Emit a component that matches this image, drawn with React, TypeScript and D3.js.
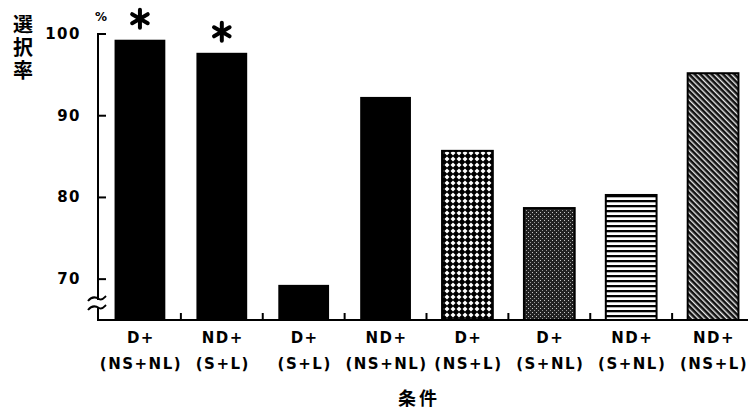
import React, { useRef, useEffect } from "react";
import * as d3 from "d3";

const groups = ["D+", "ND+", "D+", "ND+", "D+", "D+", "ND+", "ND+"];
const conditions = ["(NS+NL)", "(S+L)", "(S+L)", "(NS+NL)", "(NS+L)", "(S+NL)", "(S+NL)", "(NS+L)"];
const rates = [99.3, 97.7, 69.3, 92.3, 85.7, 78.7, 80.3, 95.2];
const fills = ["solid", "solid", "solid", "solid", "cross", "stipple", "hlines", "diag"];
const significant = [true, true, false, false, false, false, false, false];
const yTicks = [70, 80, 90, 100];

const FONT = "'DejaVu Sans', sans-serif";

export default function App() {
    const svgRef = useRef<SVGSVGElement | null>(null);

    useEffect(() => {
        if (!svgRef.current) return;
        const svg = d3.select(svgRef.current);
        svg.selectAll("*").remove();

        const width = 749;
        const height = 414;
        const axisX = 98;
        const baseY = 320;

        const keys = groups.map((_, i) => String(i));
        const x = d3.scaleBand<string>().domain(keys).range([99, 754]).paddingInner(0.38).paddingOuter(0.19);
        const y = d3.scaleLinear().domain([65, 100]).range([baseY, 34]);

        svg.attr("width", width).attr("height", height);
        svg.append("rect").attr("width", width).attr("height", height).attr("fill", "white");

        // patterns
        const defs = svg.append("defs");
        const cross = defs.append("pattern").attr("id", "p-cross").attr("patternUnits", "userSpaceOnUse")
            .attr("width", 6).attr("height", 6);
        cross.append("rect").attr("width", 6).attr("height", 6).attr("fill", "black");
        cross.append("polygon").attr("points", "3,0.5 5.5,3 3,5.5 0.5,3").attr("fill", "white");

        const stip = defs.append("pattern").attr("id", "p-stipple").attr("patternUnits", "userSpaceOnUse")
            .attr("width", 4).attr("height", 4);
        stip.append("rect").attr("width", 4).attr("height", 4).attr("fill", "#222");
        stip.append("rect").attr("x", 0).attr("y", 0).attr("width", 1).attr("height", 1).attr("fill", "#c8c8c8");
        stip.append("rect").attr("x", 2).attr("y", 2).attr("width", 1).attr("height", 1).attr("fill", "#999");

        const hl = defs.append("pattern").attr("id", "p-hlines").attr("patternUnits", "userSpaceOnUse")
            .attr("width", 5).attr("height", 5);
        hl.append("rect").attr("width", 5).attr("height", 5).attr("fill", "white");
        hl.append("rect").attr("width", 5).attr("height", 2.3).attr("fill", "black");

        const dg = defs.append("pattern").attr("id", "p-diag").attr("patternUnits", "userSpaceOnUse")
            .attr("width", 4).attr("height", 4).attr("patternTransform", "rotate(-45)");
        dg.append("rect").attr("width", 4).attr("height", 4).attr("fill", "#111");
        dg.append("rect").attr("width", 1.4).attr("height", 4).attr("fill", "#e8e8e8");

        // bars
        svg.append("g").selectAll("rect").data(rates).join("rect")
            .attr("x", (_, i) => x(keys[i])!)
            .attr("y", d => y(d))
            .attr("width", x.bandwidth())
            .attr("height", d => baseY - y(d))
            .attr("fill", (_, i) => fills[i] === "solid" ? "black" : `url(#p-${fills[i]})`)
            .attr("stroke", "black")
            .attr("stroke-width", (_, i) => fills[i] === "solid" ? 0 : 2);

        // asterisks
        const star = svg.append("g");
        rates.forEach((v, i) => {
            if (!significant[i]) return;
            const cx = x(keys[i])! + x.bandwidth() / 2;
            const cy = y(v) - 21;
            const g = star.append("g").attr("transform", `translate(${cx},${cy})`);
            [90, 30, -30].forEach(a => {
                const r = (a * Math.PI) / 180;
                g.append("line")
                    .attr("x1", -9 * Math.cos(r)).attr("y1", -9 * Math.sin(r))
                    .attr("x2", 9 * Math.cos(r)).attr("y2", 9 * Math.sin(r))
                    .attr("stroke", "black").attr("stroke-width", 4).attr("stroke-linecap", "round");
            });
        });

        // y axis
        const ax = svg.append("g").attr("stroke", "black").attr("stroke-width", 2).attr("fill", "none");
        ax.append("line").attr("x1", axisX).attr("x2", axisX).attr("y1", y(100) - 1).attr("y2", 300);
        ax.append("line").attr("x1", axisX).attr("x2", axisX).attr("y1", 308).attr("y2", baseY + 1);
        yTicks.forEach(t => {
            ax.append("line").attr("x1", axisX).attr("x2", axisX + 8).attr("y1", y(t)).attr("y2", y(t));
        });
        // axis break
        [299, 308].forEach(by => {
            ax.append("path")
                .attr("d", `M88,${by + 2} C92,${by - 3} 96,${by - 2} 99,${by} C102,${by + 2} 104,${by - 1} 106,${by - 3}`);
        });

        // x axis
        ax.append("line").attr("x1", axisX - 1).attr("x2", 748).attr("y1", baseY).attr("y2", baseY);
        keys.slice(1).forEach(k => {
            const bx = x(k)! - (x.step() - x.bandwidth()) / 2;
            ax.append("line").attr("x1", bx).attr("x2", bx).attr("y1", baseY).attr("y2", baseY - 7);
        });

        const txt = svg.append("g").attr("font-family", FONT).attr("font-weight", "bold").attr("fill", "black");
        yTicks.forEach(t => {
            txt.append("text").attr("x", 81).attr("y", y(t) + 5).attr("text-anchor", "end")
                .attr("font-size", 15).attr("letter-spacing", 1.5).text(String(t));
        });
        txt.append("text").attr("x", 101).attr("y", 21).attr("text-anchor", "middle")
            .attr("font-size", 12).text("%");

        keys.forEach((k, i) => {
            const cx = x(k)! + x.bandwidth() / 2 + 1;
            txt.append("text").attr("x", cx).attr("y", 343).attr("text-anchor", "middle")
                .attr("font-size", 15).attr("letter-spacing", 1.5).text(groups[i]);
            txt.append("text").attr("x", cx).attr("y", 369).attr("text-anchor", "middle")
                .attr("font-size", 15).attr("letter-spacing", 1.5).text(conditions[i]);
        });

        const cjk = "'Noto Sans CJK JP', 'Noto Sans CJK SC', sans-serif";
        txt.append("text").attr("x", 419).attr("y", 405).attr("text-anchor", "middle")
            .attr("font-family", cjk).attr("font-size", 18).attr("letter-spacing", 3).text("条件");
        txt.append("text").attr("x", 23).attr("y", 14)
            .attr("font-family", cjk).attr("font-size", 20).attr("letter-spacing", 3)
            .style("writing-mode", "vertical-rl").text("選択率");
    }, []);

    return (
        <div style={{ position: "absolute", left: 0, top: 0 }}>
            <svg ref={svgRef} style={{ display: "block" }} />
        </div>
    );
}
